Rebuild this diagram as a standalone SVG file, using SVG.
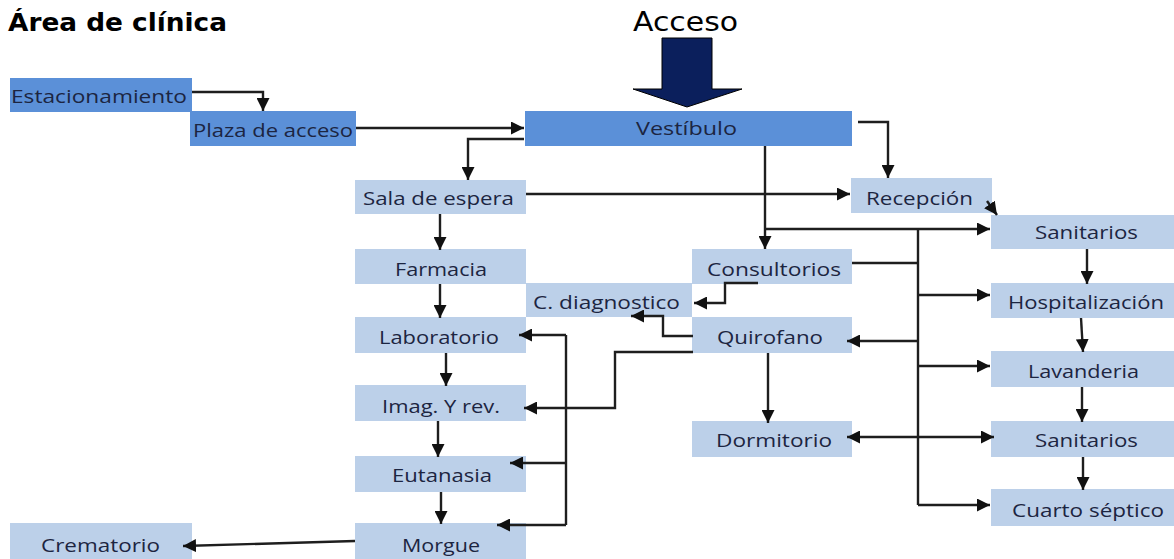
<svg xmlns="http://www.w3.org/2000/svg" width="1174" height="559" viewBox="0 0 1174 559">
<style>
.lb{fill:#bcd0e9}
.mb{fill:#5b90d8}
.t{font-family:"Open Sans","Liberation Sans",sans-serif;font-size:19px;fill:#1c2541}
.c{fill:none;stroke:#1e1e1e;stroke-width:2.4}
.a{marker-end:url(#ah)}
</style>
<defs>
<marker id="ah" viewBox="0 0 10 10" refX="10" refY="5" markerWidth="13" markerHeight="13" markerUnits="userSpaceOnUse" orient="auto-start-reverse">
<path d="M0,0 L10,5 L0,10 z" fill="#111"/>
</marker>
</defs>
<rect width="1174" height="559" fill="#fff"/>
<text x="8" y="31" font-family="DejaVu Sans,sans-serif" font-weight="bold" font-size="24" textLength="219" lengthAdjust="spacingAndGlyphs" fill="#000">Área de clínica</text>
<text x="633" y="31" font-family="DejaVu Sans,sans-serif" font-size="26" textLength="105" lengthAdjust="spacingAndGlyphs" fill="#000">Acceso</text>
<polygon id="acceso-arrow" points="662,38 712,38 712,89 742,89 687,107 633,89 662,89" fill="#0b1f5c" stroke="#000" stroke-width="1"/>

<g id="estacionamiento"><rect class="mb" x="10" y="78" width="182" height="34"/><text class="t" x="11" y="103" textLength="176" lengthAdjust="spacingAndGlyphs">Estacionamiento</text></g>
<g id="plaza"><rect class="mb" x="190" y="111" width="166" height="35"/><text class="t" x="193" y="137" textLength="160" lengthAdjust="spacingAndGlyphs">Plaza de acceso</text></g>
<g id="vestibulo"><rect class="mb" x="525" y="111" width="327" height="35"/><text class="t" x="636" y="135" textLength="101" lengthAdjust="spacingAndGlyphs">Vestíbulo</text></g>
<g id="sala"><rect class="lb" x="355" y="180" width="171" height="34"/><text class="t" x="363" y="205" textLength="151" lengthAdjust="spacingAndGlyphs">Sala de espera</text></g>
<g id="recepcion"><rect class="lb" x="851" y="178" width="141" height="35"/><text class="t" x="866" y="205" textLength="107" lengthAdjust="spacingAndGlyphs">Recepción</text></g>
<g id="sanitarios1"><rect class="lb" x="991" y="215" width="183" height="34"/><text class="t" x="1035" y="239" textLength="103" lengthAdjust="spacingAndGlyphs">Sanitarios</text></g>
<g id="farmacia"><rect class="lb" x="355" y="249" width="171" height="35"/><text class="t" x="395" y="276" textLength="92" lengthAdjust="spacingAndGlyphs">Farmacia</text></g>
<g id="consultorios"><rect class="lb" x="692" y="249" width="160" height="35"/><text class="t" x="707" y="276" textLength="134" lengthAdjust="spacingAndGlyphs">Consultorios</text></g>
<g id="cdiagnostico"><rect class="lb" x="526" y="283" width="166" height="34"/><text class="t" x="533" y="309" textLength="147" lengthAdjust="spacingAndGlyphs">C. diagnostico</text></g>
<g id="hospitalizacion"><rect class="lb" x="991" y="283" width="183" height="35"/><text class="t" x="1008" y="309" textLength="156" lengthAdjust="spacingAndGlyphs">Hospitalización</text></g>
<g id="laboratorio"><rect class="lb" x="355" y="317" width="171" height="36"/><text class="t" x="379" y="344" textLength="120" lengthAdjust="spacingAndGlyphs">Laboratorio</text></g>
<g id="quirofano"><rect class="lb" x="692" y="317" width="160" height="36"/><text class="t" x="717" y="344" textLength="106" lengthAdjust="spacingAndGlyphs">Quirofano</text></g>
<g id="lavanderia"><rect class="lb" x="991" y="351" width="183" height="36"/><text class="t" x="1028" y="378" textLength="111" lengthAdjust="spacingAndGlyphs">Lavanderia</text></g>
<g id="imag"><rect class="lb" x="355" y="385" width="171" height="36"/><text class="t" x="382" y="413" textLength="118" lengthAdjust="spacingAndGlyphs">Imag. Y rev.</text></g>
<g id="dormitorio"><rect class="lb" x="692" y="421" width="160" height="36"/><text class="t" x="716" y="447" textLength="116" lengthAdjust="spacingAndGlyphs">Dormitorio</text></g>
<g id="sanitarios2"><rect class="lb" x="991" y="421" width="183" height="36"/><text class="t" x="1035" y="447" textLength="103" lengthAdjust="spacingAndGlyphs">Sanitarios</text></g>
<g id="eutanasia"><rect class="lb" x="355" y="456" width="171" height="36"/><text class="t" x="392" y="482" textLength="100" lengthAdjust="spacingAndGlyphs">Eutanasia</text></g>
<g id="cuarto"><rect class="lb" x="991" y="489" width="183" height="37"/><text class="t" x="1012" y="517" textLength="152" lengthAdjust="spacingAndGlyphs">Cuarto séptico</text></g>
<g id="morgue"><rect class="lb" x="355" y="523" width="171" height="36"/><text class="t" x="402" y="552" textLength="78" lengthAdjust="spacingAndGlyphs">Morgue</text></g>
<g id="crematorio"><rect class="lb" x="10" y="523" width="182" height="36"/><text class="t" x="41" y="552" textLength="119" lengthAdjust="spacingAndGlyphs">Crematorio</text></g>

<g id="connectors">
<path class="c a" d="M192,92 H263 V111"/>
<path class="c a" d="M356,128 H524"/>
<path class="c a" d="M524,139 H468 V180"/>
<path class="c a" d="M858,122 H888 V178"/>
<path class="c a" d="M526,194 H850"/>
<path class="c a" d="M987,201 L997,215"/>
<path class="c a" d="M765,146 V249"/>
<path class="c a" d="M765,229 H990"/>
<path class="c" d="M918,229 V505"/>
<path class="c" d="M852,263 H918"/>
<path class="c a" d="M918,295 H990"/>
<path class="c a" d="M918,341 H847"/>
<path class="c a" d="M918,366 H990"/>
<path class="c a" d="M847,437 H994" marker-start="url(#ah)"/>
<path class="c a" d="M918,505 H990"/>
<path class="c a" d="M1087,249 V284"/>
<path class="c a" d="M1081,318 L1083,352"/>
<path class="c a" d="M1082,387 V422"/>
<path class="c a" d="M1083,457 V490"/>
<path class="c a" d="M768,353 V423"/>
<path class="c a" d="M758,283 H725 V303 H694"/>
<path class="c a" d="M693,336 H663 V316 H631"/>
<path class="c a" d="M693,352 H615 V408 H524"/>
<path class="c" d="M566,335 V525"/>
<path class="c a" d="M566,335 H519"/>
<path class="c a" d="M566,463 H510"/>
<path class="c a" d="M566,525 H497"/>
<path class="c a" d="M355,541 L183,546"/>
<path class="c a" d="M440,214 V250"/>
<path class="c a" d="M440,284 V318"/>
<path class="c a" d="M446,353 V386"/>
<path class="c a" d="M438,421 V457"/>
<path class="c a" d="M441,492 V524"/>
</g>
</svg>
